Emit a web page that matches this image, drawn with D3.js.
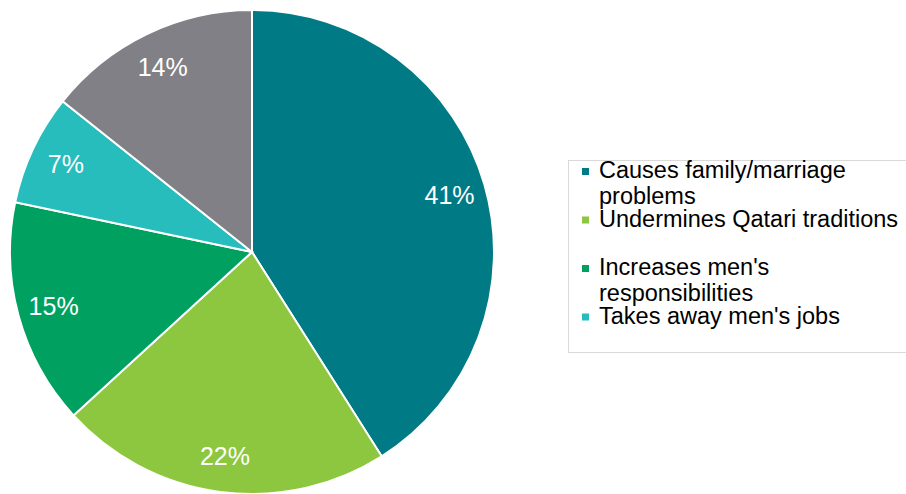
<!DOCTYPE html>
<html>
<head>
<meta charset="utf-8">
<script src="https://cdn.jsdelivr.net/npm/d3@7"></script>
<style>
  body { margin: 0; background: #fff; }
  text { font-family: "Liberation Sans", Arial, sans-serif; }
</style>
</head>
<body>
<div id="chart"></div>
<script>
// Slice values (percent), clockwise from 12 o'clock
var values = [41, 22.2, 15.1, 7.4, 14.3];
var labels = ["41%", "22%", "15%", "7%", "14%"];
var colors = ["#007a85", "#8dc63f", "#00a160", "#26bdbc", "#818086"];
// Legend entries (the fifth, grey entry is cut off in the original)
var legendNames = [
    ["Causes family/marriage", "problems"],
    ["Undermines Qatari traditions"],
    ["Increases men's", "responsibilities"],
    ["Takes away men's jobs"]
];

var width = 906, height = 494;
var cx = 252, cy = 252, radius = 242;

var svg = d3.select("#chart")
    .append("svg")
    .attr("width", width)
    .attr("height", height);

var pie = d3.pie().sort(null);
var arcs = pie(values);

var arc = d3.arc().innerRadius(0).outerRadius(radius);
var labelArc = d3.arc().innerRadius(radius * 0.85).outerRadius(radius * 0.85);

var g = svg.append("g")
    .attr("transform", "translate(" + cx + "," + cy + ")");

// Slices
g.selectAll(".slice")
    .data(arcs)
    .enter().append("path")
    .attr("class", "slice")
    .attr("d", arc)
    .attr("fill", function(d, i) { return colors[i]; })
    .attr("stroke", "#fff")
    .attr("stroke-width", 2);

// Percent labels
g.selectAll(".label")
    .data(arcs)
    .enter().append("text")
    .attr("class", "label")
    .attr("transform", function(d) { return "translate(" + labelArc.centroid(d) + ")"; })
    .attr("text-anchor", "middle")
    .attr("dy", "0.36em")
    .attr("fill", "#fff")
    .style("font-size", "25px")
    .text(function(d, i) { return labels[i]; });

// Legend
var legend = svg.append("g");

legend.append("rect")
    .attr("x", 568.5)
    .attr("y", 160.5)
    .attr("width", 360)
    .attr("height", 192)
    .attr("fill", "#fff")
    .attr("stroke", "#d9d9d9");

var itemY = d3.scaleLinear().domain([0, 1]).range([178, 226.5]);

var items = legend.selectAll(".item")
    .data(legendNames)
    .enter().append("g")
    .attr("class", "item")
    .attr("transform", function(d, i) { return "translate(0," + itemY(i) + ")"; });

items.append("rect")
    .attr("x", 582)
    .attr("y", -10)
    .attr("width", 7)
    .attr("height", 7)
    .attr("fill", function(d, i) { return colors[i]; });

items.append("text")
    .attr("x", 599)
    .attr("fill", "#000")
    .style("font-size", "23.5px")
    .selectAll("tspan")
    .data(function(d) { return d; })
    .enter().append("tspan")
    .attr("x", 599)
    .attr("y", function(d, j) { return j * 26; })
    .text(function(d) { return d; });
</script>
</body>
</html>
